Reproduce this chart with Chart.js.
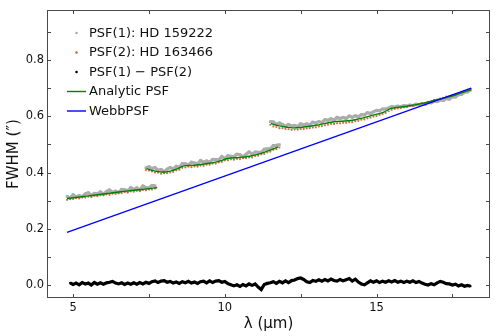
<!DOCTYPE html>
<html>
<head>
<meta charset="utf-8">
<script src="https://cdn.jsdelivr.net/npm/chart.js@4/dist/chart.umd.min.js"></script>
<style>
  html, body { margin: 0; padding: 0; background: #fff; }
  #wrap { width: 498px; height: 336px; }
</style>
</head>
<body>
<div id="wrap"><canvas id="fwhmChart"></canvas></div>
<script>
// ----- data -----
const wl1 = [4.8, 4.9, 5.0, 5.1, 5.2, 5.3, 5.4, 5.5, 5.6, 5.7, 5.8, 5.9, 6.0, 6.1, 6.2, 6.3, 6.4, 6.5, 6.6, 6.7,
  6.8, 6.9, 7.0, 7.1, 7.2, 7.3, 7.4, 7.5, 7.6, 7.7];
const psf1Seg1 = [.315, .309, .321, .314, .318, .314, .324, .328, .319, .326, .324, .331, .324, .332, .338, .330, .334, .329, .340, .339,
  .335, .346, .340, .346, .339, .352, .347, .345, .354, .353];
const psf2Seg1 = [.303, .306, .306, .309, .308, .312, .311, .314, .313, .317, .316, .319, .319, .322, .321, .325, .324, .327, .327, .330,
  .329, .333, .332, .335, .334, .338, .337, .340, .340, .343];

const wl2 = [7.4, 7.5, 7.6, 7.7, 7.8, 7.9, 8.0, 8.1, 8.2, 8.3, 8.4, 8.5, 8.6, 8.7, 8.8, 8.9, 9.0, 9.1, 9.2, 9.3,
  9.4, 9.5, 9.6, 9.7, 9.8, 9.9, 10.0, 10.1, 10.2, 10.3, 10.4, 10.5, 10.6, 10.7, 10.8, 10.9, 11.0, 11.1, 11.2, 11.3,
  11.4, 11.5, 11.6, 11.7, 11.8];
const psf1Seg2 = [.417, .421, .414, .418, .408, .411, .403, .412, .418, .413, .422, .419, .432, .431, .427, .437, .434, .431, .443, .436,
  .441, .436, .447, .446, .445, .457, .450, .460, .458, .456, .465, .463, .456, .465, .473, .465, .473, .472, .472, .483,
  .484, .484, .496, .497, .499];
const psf2Seg2 = [.409, .407, .404, .400, .400, .396, .398, .398, .401, .402, .408, .410, .417, .418, .421, .419, .422, .421, .425, .424,
  .428, .428, .432, .432, .436, .438, .443, .444, .447, .446, .449, .448, .451, .451, .454, .454, .459, .460, .465, .466,
  .472, .474, .481, .483, .489];

const wl3 = [11.5, 11.6, 11.7, 11.8, 11.9, 12.0, 12.1, 12.2, 12.3, 12.4, 12.5, 12.6, 12.7, 12.8, 12.9, 13.0, 13.1, 13.2, 13.3, 13.4,
  13.5, 13.6, 13.7, 13.8, 13.9, 14.0, 14.1, 14.2, 14.3, 14.4, 14.5, 14.6, 14.7, 14.8, 14.9, 15.0, 15.1, 15.2, 15.3, 15.4,
  15.5, 15.6, 15.7, 15.8, 15.9, 16.0, 16.1, 16.2, 16.3, 16.4, 16.5, 16.6, 16.7, 16.8, 16.9, 17.0, 17.1, 17.2, 17.3, 17.4,
  17.5, 17.6, 17.7, 17.8, 17.9, 18.0, 18.1];
const psf1Seg3 = [.581, .580, .572, .576, .571, .565, .571, .565, .568, .564, .573, .569, .573, .570, .579, .576, .581, .578, .588, .586,
  .591, .587, .596, .592, .596, .592, .601, .597, .602, .598, .606, .605, .613, .610, .616, .621, .620, .626, .626, .629,
  .634, .633, .636, .634, .638, .636, .640, .638, .643, .641, .645, .643, .649, .648, .654, .652, .658, .657, .663, .661,
  .669, .669, .677, .678, .686, .687, .694];
const psf2Seg3 = [.570, .564, .562, .558, .558, .555, .554, .552, .553, .553, .555, .555, .557, .558, .560, .561, .564, .565, .568, .570,
  .573, .573, .575, .575, .577, .577, .579, .579, .583, .584, .588, .589, .593, .595, .599, .601, .605, .608, .612, .618,
  .623, .626, .628, .630, .632, .634, .637, .638, .641, .643, .646, .647, .651, .653, .658, .659, .663, .666, .670, .671,
  .675, .678, .682, .686, .690, .694, .698];

const wlDiff = [4.9, 5.0, 5.1, 5.2, 5.3, 5.4, 5.5, 5.6, 5.7, 5.8, 5.9,
  6.0, 6.1, 6.2, 6.3, 6.4, 6.5, 6.6, 6.7, 6.8, 6.9,
  7.0, 7.1, 7.2, 7.3, 7.4, 7.5, 7.6, 7.7, 7.8, 7.9,
  8.0, 8.1, 8.2, 8.3, 8.4, 8.5, 8.6, 8.7, 8.8, 8.9,
  9.0, 9.1, 9.2, 9.3, 9.4, 9.5, 9.6, 9.7, 9.8, 9.9,
  10.0, 10.1, 10.2, 10.3, 10.4, 10.5, 10.6, 10.7, 10.8, 10.9,
  11.0, 11.1, 11.2, 11.3, 11.4, 11.5, 11.6, 11.7, 11.8, 11.9,
  12.0, 12.1, 12.2, 12.3, 12.4, 12.5, 12.6, 12.7, 12.8, 12.9,
  13.0, 13.1, 13.2, 13.3, 13.4, 13.5, 13.6, 13.7, 13.8, 13.9,
  14.0, 14.1, 14.2, 14.3, 14.4, 14.5, 14.6, 14.7, 14.8, 14.9,
  15.0, 15.1, 15.2, 15.3, 15.4, 15.5, 15.6, 15.7, 15.8, 15.9,
  16.0, 16.1, 16.2, 16.3, 16.4, 16.5, 16.6, 16.7, 16.8, 16.9,
  17.0, 17.1, 17.2, 17.3, 17.4, 17.5, 17.6, 17.7, 17.8, 17.9,
  18.0, 18.1];
const psfDiff = [.008, .002, .007, .001, .009, .004, .007, .000, .009, .003, .008,
  .003, .008, .010, .013, .007, .004, .008, .002, .007, .003,
  .008, .003, .009, .004, .010, .006, .012, .015, .009, .014,
  .016, .010, .013, .007, .011, .006, .012, .008, .013, .007,
  .011, .006, .012, .014, .008, .015, .009, .014, .016, .010,
  .013, .005, .001, -.003, .001, -.005, .002, -.003, .004, -.001,
  .004, -.007, -.016, .002, .006, .008, .012, .006, .013, .008,
  .015, .009, .016, .018, .023, .025, .020, .012, .009, .016,
  .013, .019, .014, .020, .015, .021, .016, .014, .020, .015,
  .019, .023, .014, .021, .011, .004, .001, .008, .015, .010,
  .015, .009, .014, .010, .015, .011, .016, .010, .014, .009,
  .014, .010, .015, .009, .013, .007, .003, .000, .005, .001,
  .008, .013, .010, .005, .004, .000, .003, -.003, .001, -.004,
  -.001, -.004];

const analyticX1 = [4.8, 5.5, 6.0, 6.5, 7.0, 7.5, 7.77];
const analyticY1 = [.308, .317, .324, .331, .337, .343, .347];
const analyticX2 = [7.42, 7.6, 7.94, 8.2, 8.45, 8.65, 9.0, 9.43, 9.8, 10.09, 10.5, 10.86, 11.3, 11.76];
const analyticY2 = [.414, .408, .402, .405, .414, .424, .426, .432, .440, .450, .454, .459, .472, .491];
const analyticX3 = [11.52, 11.8, 12.23, 12.6, 13.0, 13.55, 14.2, 14.88, 15.26, 15.48, 16.0, 16.47, 16.91, 17.57, 18.12];
const analyticY3 = [.574, .566, .559, .562, .568, .580, .586, .604, .616, .628, .636, .645, .657, .675, .695];

const webbX = [4.8, 18.12];
const webbY = [0.187, 0.700];

const xTicks = [5, 7.5, 10, 12.5, 15, 17.5];
const xLabelled = [5, 10, 15];
const yTicks = [0, 0.1, 0.2, 0.3, 0.4, 0.5, 0.6, 0.7, 0.8, 0.9];
const yLabelled = [0, 0.2, 0.4, 0.6, 0.8];

const legendItems = [
  { label: 'PSF(1): HD 159222', kind: 'dot', color: '#a9a9a9' },
  { label: 'PSF(2): HD 163466', kind: 'dot', color: '#c8643a' },
  { label: 'PSF(1) \u2212 PSF(2)', kind: 'dot', color: '#000000' },
  { label: 'Analytic PSF', kind: 'line', color: '#008000' },
  { label: 'WebbPSF', kind: 'line', color: '#0000ff' },
];

const GRAY = '#acacac';
const RED = 'rgba(190, 90, 45, 0.85)';
const FONT = 'DejaVu Sans';

const pts = (xs, ys) => xs.map((x, i) => ({ x, y: ys[i] }));

// ----- datasets -----
// the grey measurements are so dense that they form a noisy band: draw points plus a thick jagged trace
const grayStyle = {
  showLine: true, borderColor: GRAY, borderWidth: 3.2, tension: 0,
  pointRadius: 1.9, pointStyle: 'rect', pointBackgroundColor: GRAY, pointBorderWidth: 0, order: 5
};
const redStyle = { showLine: false, pointRadius: 1.1, pointBackgroundColor: RED, pointBorderWidth: 0, order: 4 };
const greenStyle = { showLine: true, borderColor: '#008000', borderWidth: 1.4, pointRadius: 0, tension: 0.3, order: 2 };

const datasets = [
  { label: 'PSF(1): HD 159222', data: pts(wl1, psf1Seg1), ...grayStyle },
  { label: 'PSF(1) seg2', data: pts(wl2, psf1Seg2), ...grayStyle },
  { label: 'PSF(1) seg3', data: pts(wl3, psf1Seg3), ...grayStyle },
  { label: 'PSF(2): HD 163466', data: pts(wl1, psf2Seg1), ...redStyle },
  { label: 'PSF(2) seg2', data: pts(wl2, psf2Seg2), ...redStyle },
  { label: 'PSF(2) seg3', data: pts(wl3, psf2Seg3), ...redStyle },
  {
    label: 'PSF(1) \u2212 PSF(2)', data: pts(wlDiff, psfDiff), showLine: true,
    borderColor: '#000', borderWidth: 3.2, pointRadius: 1.3, pointStyle: 'rect',
    pointBackgroundColor: '#000', pointBorderWidth: 0, order: 3
  },
  { label: 'Analytic PSF', data: pts(analyticX1, analyticY1), ...greenStyle },
  { label: 'Analytic seg2', data: pts(analyticX2, analyticY2), ...greenStyle },
  { label: 'Analytic seg3', data: pts(analyticX3, analyticY3), ...greenStyle },
  {
    label: 'WebbPSF', data: pts(webbX, webbY), showLine: true,
    borderColor: '#0000ff', borderWidth: 1.3, pointRadius: 0, order: 1
  },
];

// frame, inward ticks on all four sides, and the legend inside the axes
const framePlugin = {
  id: 'frame',
  afterDraw(chart) {
    const { ctx, chartArea: a, scales } = chart;
    const L = Math.round(a.left) + 0.5, R = Math.round(a.right) - 0.5;
    const T = Math.round(a.top) + 0.5, B = Math.round(a.bottom) - 0.5;
    const len = 3.5;
    ctx.save();
    ctx.strokeStyle = '#4a4a4a';
    ctx.lineWidth = 1;
    ctx.strokeRect(L, T, R - L, B - T);
    ctx.beginPath();
    xTicks.forEach(v => {
      const px = Math.round(scales.x.getPixelForValue(v)) + 0.5;
      ctx.moveTo(px, B); ctx.lineTo(px, B - len);
      ctx.moveTo(px, T); ctx.lineTo(px, T + len);
    });
    yTicks.forEach(v => {
      const py = Math.round(scales.y.getPixelForValue(v)) + 0.5;
      ctx.moveTo(L, py); ctx.lineTo(L + len, py);
      ctx.moveTo(R, py); ctx.lineTo(R - len, py);
    });
    ctx.stroke();

    // legend
    ctx.font = `13px "${FONT}"`;
    ctx.textBaseline = 'middle';
    ctx.textAlign = 'left';
    legendItems.forEach((item, i) => {
      const y = a.top + 23 + i * 19.5;
      if (item.kind === 'dot') {
        ctx.fillStyle = item.color;
        ctx.beginPath();
        ctx.arc(a.left + 29.5, y, 1.3, 0, Math.PI * 2);
        ctx.fill();
      } else {
        ctx.strokeStyle = item.color;
        ctx.lineWidth = 1.4;
        ctx.beginPath();
        ctx.moveTo(a.left + 20, y); ctx.lineTo(a.left + 39, y);
        ctx.stroke();
      }
      ctx.fillStyle = '#111';
      ctx.fillText(item.label, a.left + 42, y + 0.5);
    });
    ctx.restore();
  }
};

Chart.defaults.font.family = FONT;
Chart.defaults.color = '#111';

new Chart(document.getElementById('fwhmChart'), {
  type: 'scatter',
  data: { datasets },
  options: {
    responsive: true,
    maintainAspectRatio: false,
    animation: false,
    events: [],
    layout: { padding: { top: 10, right: 8, left: 0, bottom: 0 } },
    plugins: { legend: { display: false }, tooltip: { enabled: false } },
    scales: {
      x: {
        type: 'linear',
        min: 4.14,
        max: 18.74,
        grid: { display: false, drawTicks: false },
        border: { display: false },
        afterBuildTicks: (s) => { s.ticks = xTicks.map(v => ({ value: v })); },
        afterFit: (s) => { s.height = 38; },
        ticks: {
          autoSkip: false,
          maxRotation: 0,
          padding: 3,
          color: '#111',
          font: { size: 11.5 },
          callback: (v) => xLabelled.includes(v) ? String(v) : ''
        },
        title: {
          display: true,
          text: '\u03bb (\u03bcm)',
          color: '#111',
          font: { size: 15 },
          padding: { top: 0, bottom: 3 }
        }
      },
      y: {
        type: 'linear',
        min: -0.046,
        max: 0.978,
        grid: { display: false, drawTicks: false },
        border: { display: false },
        afterBuildTicks: (s) => { s.ticks = yTicks.map(v => ({ value: v })); },
        afterFit: (s) => { s.width = 47; },
        ticks: {
          autoSkip: false,
          padding: 3,
          color: '#111',
          font: { size: 11.5 },
          callback: (v) => yLabelled.some(t => Math.abs(t - v) < 1e-9) ? v.toFixed(1) : ''
        },
        title: {
          display: true,
          text: 'FWHM (\u2033)',
          color: '#111',
          font: { size: 15 },
          padding: { top: 5, bottom: 0 }
        }
      }
    }
  },
  plugins: [framePlugin]
});
</script>
</body>
</html>
